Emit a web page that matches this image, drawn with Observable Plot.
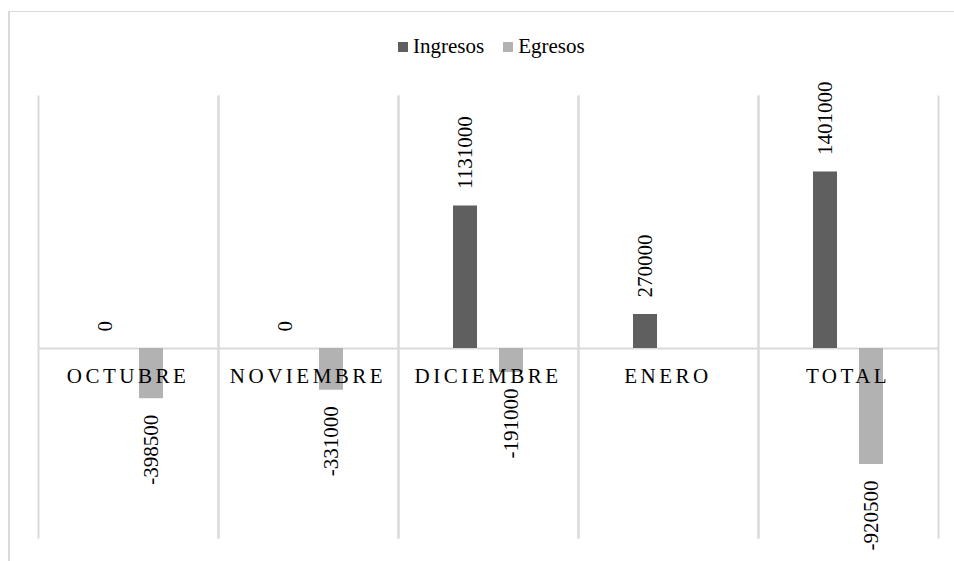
<!DOCTYPE html>
<html>
<head>
<meta charset="utf-8">
<script src="https://cdn.jsdelivr.net/npm/d3@7"></script>
<script src="https://cdn.jsdelivr.net/npm/@observablehq/plot@0.6"></script>
<style>
  html, body { margin: 0; padding: 0; background: #fff; overflow: hidden; width: 954px; height: 561px; }
  #wrap { position: relative; width: 954px; height: 561px; }
  #border { position: absolute; left: 8px; top: 11px; width: 2000px; height: 2000px;
            border-top: 1px solid #d9d9d9; border-left: 2px solid #d9d9d9; pointer-events: none; }
  #legend { position: absolute; top: 34px; left: 398px; display: flex; align-items: center;
            font-family: "Liberation Serif", "LiberationSerif", "Tinos", "Times New Roman", "DejaVu Serif", serif;
            font-size: 21px; color: #000; white-space: nowrap; }
  #legend .item { display: flex; align-items: center; margin-right: 19px; }
  #legend .sw { width: 10px; height: 10px; margin-right: 5px; display: inline-block; }
  #chart { position: absolute; left: 0; top: 0; }
  #chart svg text { font-family: "Liberation Serif", "LiberationSerif", "Tinos", "Times New Roman", "DejaVu Serif", serif; }
</style>
</head>
<body>
<div id="wrap">
  <div id="chart"></div>
  <div id="legend"></div>
  <div id="border"></div>
</div>
<script>
// Data
const categories = ["OCTUBRE", "NOVIEMBRE", "DICIEMBRE", "ENERO", "TOTAL"];
const series = ["Ingresos", "Egresos"];
const ingresos = [0, 0, 1131000, 270000, 1401000];
const egresos = [-398500, -331000, -191000, null, -920500];
const colors = ["#5f5f5f", "#b2b2b2"];

const rows = [];
categories.forEach((c, i) => {
  if (ingresos[i] != null) rows.push({category: c, series: "Ingresos", value: ingresos[i]});
  if (egresos[i] != null) rows.push({category: c, series: "Egresos", value: egresos[i]});
});

const plot = Plot.plot({
  width: 954,
  height: 561,
  marginTop: 96,
  marginBottom: 24,
  marginLeft: 38,
  marginRight: 16,
  style: {background: "none"},
  fx: {domain: categories, padding: 0, axis: null},
  x: {domain: series, paddingInner: 0.489, paddingOuter: 1.16, axis: null},
  y: {domain: [-1500000, 2000000], axis: null},
  color: {domain: series, range: colors},
  marks: [
    Plot.frame({anchor: "left", stroke: "#d9d9d9", strokeWidth: 2}),
    Plot.frame({anchor: "right", stroke: "#d9d9d9", strokeWidth: 2}),
    Plot.ruleY([0], {stroke: "#d9d9d9", strokeWidth: 2}),
    Plot.barY(rows, {fx: "category", x: "series", y: "value", fill: "series"}),
    Plot.text(rows.filter(d => d.value >= 0), {
      fx: "category", x: "series", y: "value", text: d => String(d.value),
      rotate: -90, textAnchor: "start", lineAnchor: "middle", dy: -17,
      fontSize: 21, fill: "#000"
    }),
    Plot.text(rows.filter(d => d.value < 0), {
      fx: "category", x: "series", y: "value", text: d => String(d.value),
      rotate: -90, textAnchor: "end", lineAnchor: "middle", dy: 16,
      fontSize: 21, fill: "#000"
    }),
    Plot.text(categories, {
      fx: d => d, y: () => 0, text: d => d,
      lineAnchor: "bottom", dy: 34, dx: -0.5,
      fontSize: 21, fill: "#000"
    })
  ]
});
document.getElementById("chart").appendChild(plot);

// letter spacing for the category labels
d3.select(plot).selectAll("text")
  .filter(function() { return categories.includes(this.textContent); })
  .style("letter-spacing", "3.5px");

// Legend built from the same series/colors arrays
const legend = d3.select("#legend");
series.forEach((s, i) => {
  const item = legend.append("div").attr("class", "item");
  item.append("span").attr("class", "sw").style("background", colors[i]);
  item.append("span").text(s);
});
</script>
</body>
</html>
